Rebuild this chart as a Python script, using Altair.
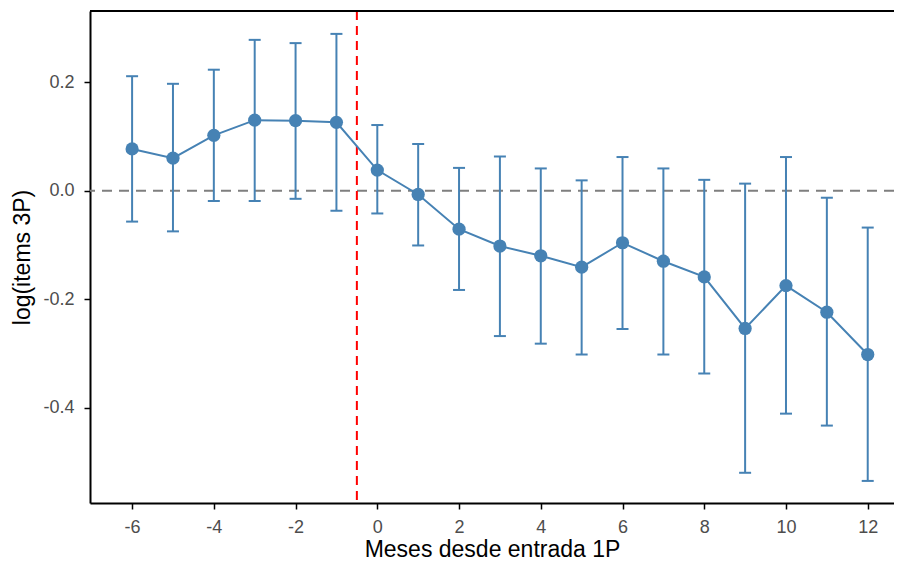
import altair as alt
import pandas as pd

months = [-6, -5, -4, -3, -2, -1, 0, 1, 2, 3, 4, 5, 6, 7, 8, 9, 10, 11, 12]
estimate = [0.077, 0.060, 0.102, 0.130, 0.129, 0.126, 0.038, -0.007, -0.071, -0.102,
            -0.120, -0.141, -0.096, -0.130, -0.159, -0.254, -0.175, -0.224, -0.302]
upper = [0.211, 0.197, 0.223, 0.278, 0.272, 0.289, 0.121, 0.086, 0.042, 0.063,
         0.041, 0.019, 0.062, 0.041, 0.020, 0.013, 0.062, -0.013, -0.068]
lower = [-0.057, -0.075, -0.019, -0.019, -0.015, -0.037, -0.042, -0.101, -0.183, -0.268,
         -0.282, -0.302, -0.255, -0.302, -0.337, -0.520, -0.411, -0.433, -0.535]
x_ticks = [-6, -4, -2, 0, 2, 4, 6, 8, 10, 12]
y_ticks = [-0.4, -0.2, 0.0, 0.2]
event_line = [-0.5]
zero_line = [0.0]

df = pd.DataFrame({"mes": months, "est": estimate, "hi": upper, "lo": lower})

W, H = 804, 492
BLUE = "#4682B4"
FONT = "Liberation Sans"

xscale = alt.Scale(domain=[-7.03, 12.643], nice=False, zero=False)
yscale = alt.Scale(domain=[-0.5757, 0.3312], nice=False, zero=False)

xaxis = alt.Axis(
    title="Meses desde entrada 1P", values=x_ticks,
    labelExpr="(datum.value < 0 ? '-' : '') + format(abs(datum.value), 'd')",
    labelFont=FONT, labelFontSize=18, labelColor="#4D4D4D", labelPadding=9,
    titleFont=FONT, titleFontSize=23, titleFontWeight="normal", titleColor="black",
    titlePadding=2, tickColor="black", tickSize=6, tickWidth=1.5,
    domainColor="black", domainWidth=2, grid=False, labelFlush=False,
)
yaxis = alt.Axis(
    title="log(items 3P)", values=y_ticks,
    labelExpr="(datum.value < 0 ? '-' : '') + format(abs(datum.value), '.1f')",
    labelFont=FONT, labelFontSize=18, labelColor="#4D4D4D", labelPadding=10,
    titleFont=FONT, titleFontSize=23, titleFontWeight="normal", titleColor="black",
    titlePadding=8, tickColor="black", tickSize=6, tickWidth=1.5,
    domainColor="black", domainWidth=2, grid=False, labelFlush=False,
)

base = alt.Chart(df)

hline = alt.Chart(pd.DataFrame({"y": zero_line})).mark_rule(
    color="#7F7F7F", strokeWidth=2, strokeDash=[10, 7]
).encode(y=alt.Y("y:Q", scale=yscale, axis=yaxis))

vline = alt.Chart(pd.DataFrame({"x": event_line})).mark_rule(
    color="#FF0000", strokeWidth=2, strokeDash=[9, 6]
).encode(x=alt.X("x:Q", scale=xscale, axis=xaxis))

bars = base.mark_rule(color=BLUE, strokeWidth=2).encode(
    x=alt.X("mes:Q", scale=xscale, axis=xaxis),
    y=alt.Y("lo:Q", scale=yscale, axis=yaxis),
    y2="hi:Q",
)
cap_hi = base.mark_tick(color=BLUE, orient="horizontal", size=12, thickness=2, opacity=1).encode(
    x=alt.X("mes:Q", scale=xscale, axis=xaxis),
    y=alt.Y("hi:Q", scale=yscale, axis=yaxis),
)
cap_lo = base.mark_tick(color=BLUE, orient="horizontal", size=12, thickness=2, opacity=1).encode(
    x=alt.X("mes:Q", scale=xscale, axis=xaxis),
    y=alt.Y("lo:Q", scale=yscale, axis=yaxis),
)
line = base.mark_line(color=BLUE, strokeWidth=2).encode(
    x=alt.X("mes:Q", scale=xscale, axis=xaxis),
    y=alt.Y("est:Q", scale=yscale, axis=yaxis),
)
points = base.mark_circle(color=BLUE, size=175, opacity=1).encode(
    x=alt.X("mes:Q", scale=xscale, axis=xaxis),
    y=alt.Y("est:Q", scale=yscale, axis=yaxis),
)
top_border = alt.Chart(pd.DataFrame({"y": zero_line})).mark_rule(
    color="black", strokeWidth=2
).encode(x=alt.value(0), x2=alt.value(W), y=alt.value(0))

chart = alt.layer(hline, vline, bars, cap_hi, cap_lo, line, points, top_border).properties(
    width=W, height=H,
    autosize=alt.AutoSizeParams(type="none"),
    padding={"left": 82, "top": 3, "right": 0, "bottom": 58},
).configure_view(stroke=None).configure(background="white")

chart.save("out.html", embed_options={"renderer": "svg", "actions": False})
